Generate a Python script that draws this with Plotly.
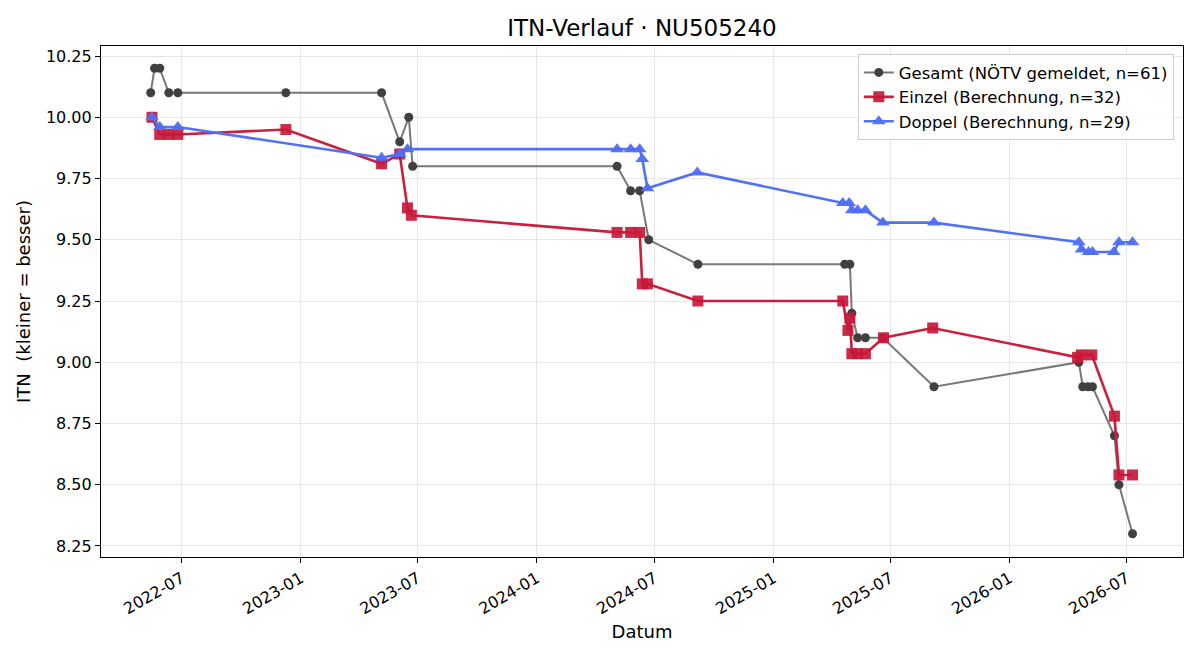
import plotly.graph_objects as go
import pandas as pd

# ---- data ----
gesamt_dates = ["2022-05-14", "2022-05-20", "2022-05-28", "2022-06-11", "2022-06-25",
                "2022-12-09", "2023-05-06", "2023-06-03", "2023-06-17", "2023-06-23",
                "2024-05-04", "2024-05-25", "2024-06-08", "2024-06-22", "2024-09-06",
                "2025-04-21", "2025-04-29", "2025-05-02", "2025-05-11", "2025-05-23",
                "2025-06-19", "2025-09-06", "2026-04-18", "2026-04-24", "2026-05-02",
                "2026-05-09", "2026-06-12", "2026-06-19", "2026-07-10"]
gesamt_itn = [10.1, 10.2, 10.2, 10.1, 10.1,
              10.1, 10.1, 9.9, 10.0, 9.8,
              9.8, 9.7, 9.7, 9.5, 9.4,
              9.4, 9.4, 9.2, 9.1, 9.1,
              9.1, 8.9, 9.0, 8.9, 8.9,
              8.9, 8.7, 8.5, 8.3]

einzel_dates = ["2022-05-16", "2022-05-28", "2022-06-11", "2022-06-25", "2022-12-09",
                "2023-05-06", "2023-06-03", "2023-06-15", "2023-06-21", "2024-05-04",
                "2024-05-25", "2024-06-08", "2024-06-12", "2024-06-20", "2024-09-06",
                "2025-04-18", "2025-04-26", "2025-04-29", "2025-05-02", "2025-05-11",
                "2025-05-23", "2025-06-20", "2025-09-04", "2026-04-16", "2026-04-22",
                "2026-05-08", "2026-06-12", "2026-06-19", "2026-07-10"]
einzel_itn = [10.00, 9.93, 9.93, 9.93, 9.95,
              9.81, 9.85, 9.63, 9.60, 9.53,
              9.53, 9.53, 9.32, 9.32, 9.25,
              9.25, 9.13, 9.18, 9.035, 9.035,
              9.035, 9.10, 9.14, 9.02, 9.03,
              9.03, 8.78, 8.54, 8.54]

doppel_dates = ["2022-05-16", "2022-05-28", "2022-06-25", "2023-05-06", "2023-06-03",
                "2023-06-15", "2024-05-04", "2024-05-25", "2024-06-08", "2024-06-12",
                "2024-06-20", "2024-09-05", "2025-04-18", "2025-04-28", "2025-05-02",
                "2025-05-11", "2025-05-23", "2025-06-19", "2025-09-06", "2026-04-18",
                "2026-04-22", "2026-05-03", "2026-05-09", "2026-06-11", "2026-06-19",
                "2026-07-10"]
doppel_itn = [10.00, 9.96, 9.96, 9.835, 9.85,
              9.87, 9.87, 9.87, 9.87, 9.83,
              9.71, 9.775, 9.65, 9.65, 9.62,
              9.62, 9.62, 9.57, 9.57, 9.49,
              9.46, 9.45, 9.45, 9.45, 9.49,
              9.49]

y_ticks = [8.25, 8.50, 8.75, 9.00, 9.25, 9.50, 9.75, 10.00, 10.25]

FONT = "DejaVu Sans"

fig = go.Figure()
fig.add_trace(go.Scatter(
    x=gesamt_dates, y=gesamt_itn, mode="lines+markers",
    name="Gesamt (NÖTV gemeldet, n=61)",
    line=dict(color="#787878", width=2),
    marker=dict(symbol="circle", size=9, color="#404040"),
))
fig.add_trace(go.Scatter(
    x=einzel_dates, y=einzel_itn, mode="lines+markers",
    name="Einzel (Berechnung, n=32)",
    line=dict(color="#cc1f3d", width=2.6),
    marker=dict(symbol="square", size=11, color="#c8183a", opacity=0.92),
))
fig.add_trace(go.Scatter(
    x=doppel_dates, y=doppel_itn, mode="lines+markers",
    name="Doppel (Berechnung, n=29)",
    line=dict(color="#5272f5", width=2.6),
    marker=dict(symbol="triangle-up", size=12, color="#4f6ef5", opacity=0.95),
))

x0 = pd.Timestamp("2022-07-01") - pd.Timedelta(days=124.8)
x1 = pd.Timestamp("2022-07-01") + pd.Timedelta(days=1548)

fig.update_layout(
    width=1200, height=660,
    margin=dict(l=101, r=17, t=46, b=103),
    paper_bgcolor="white", plot_bgcolor="white",
    font=dict(family=FONT, size=16, color="black"),
    title=dict(text="ITN-Verlauf · NU505240", x=0.5, xref="paper", xanchor="center",
               y=1 - 28 / 660, yanchor="middle",
               font=dict(family=FONT, size=23, color="black")),
    showlegend=True,
    legend=dict(x=0.9915, xanchor="right", y=0.984, yanchor="top",
                bgcolor="rgba(255,255,255,0.85)", bordercolor="#cccccc", borderwidth=1,
                font=dict(family=FONT, size=16.5), tracegroupgap=0,
                itemsizing="trace"),
)
fig.update_xaxes(
    type="date", range=[x0, x1],
    tickformat="%Y-%m", dtick="M6", tick0="2022-01-01",
    tickangle=-30, ticks="outside", ticklen=5, tickcolor="black", tickwidth=1,
    tickfont=dict(family=FONT, size=16),
    showline=True, linecolor="black", linewidth=1.2, mirror=True,
    showgrid=True, gridcolor="#e6e6e6", gridwidth=1, zeroline=False,
    title=dict(text="Datum", font=dict(family=FONT, size=18), standoff=8),
)
fig.update_yaxes(
    range=[8.205, 10.291], tickvals=y_ticks, tickformat=".2f",
    ticks="outside", ticklen=5, tickcolor="black", tickwidth=1,
    tickfont=dict(family=FONT, size=16),
    showline=True, linecolor="black", linewidth=1.2, mirror=True,
    showgrid=True, gridcolor="#e6e6e6", gridwidth=1, zeroline=False,
    title=dict(text="ITN  (kleiner = besser)", font=dict(family=FONT, size=18), standoff=10),
)

fig.write_html("out.html")
